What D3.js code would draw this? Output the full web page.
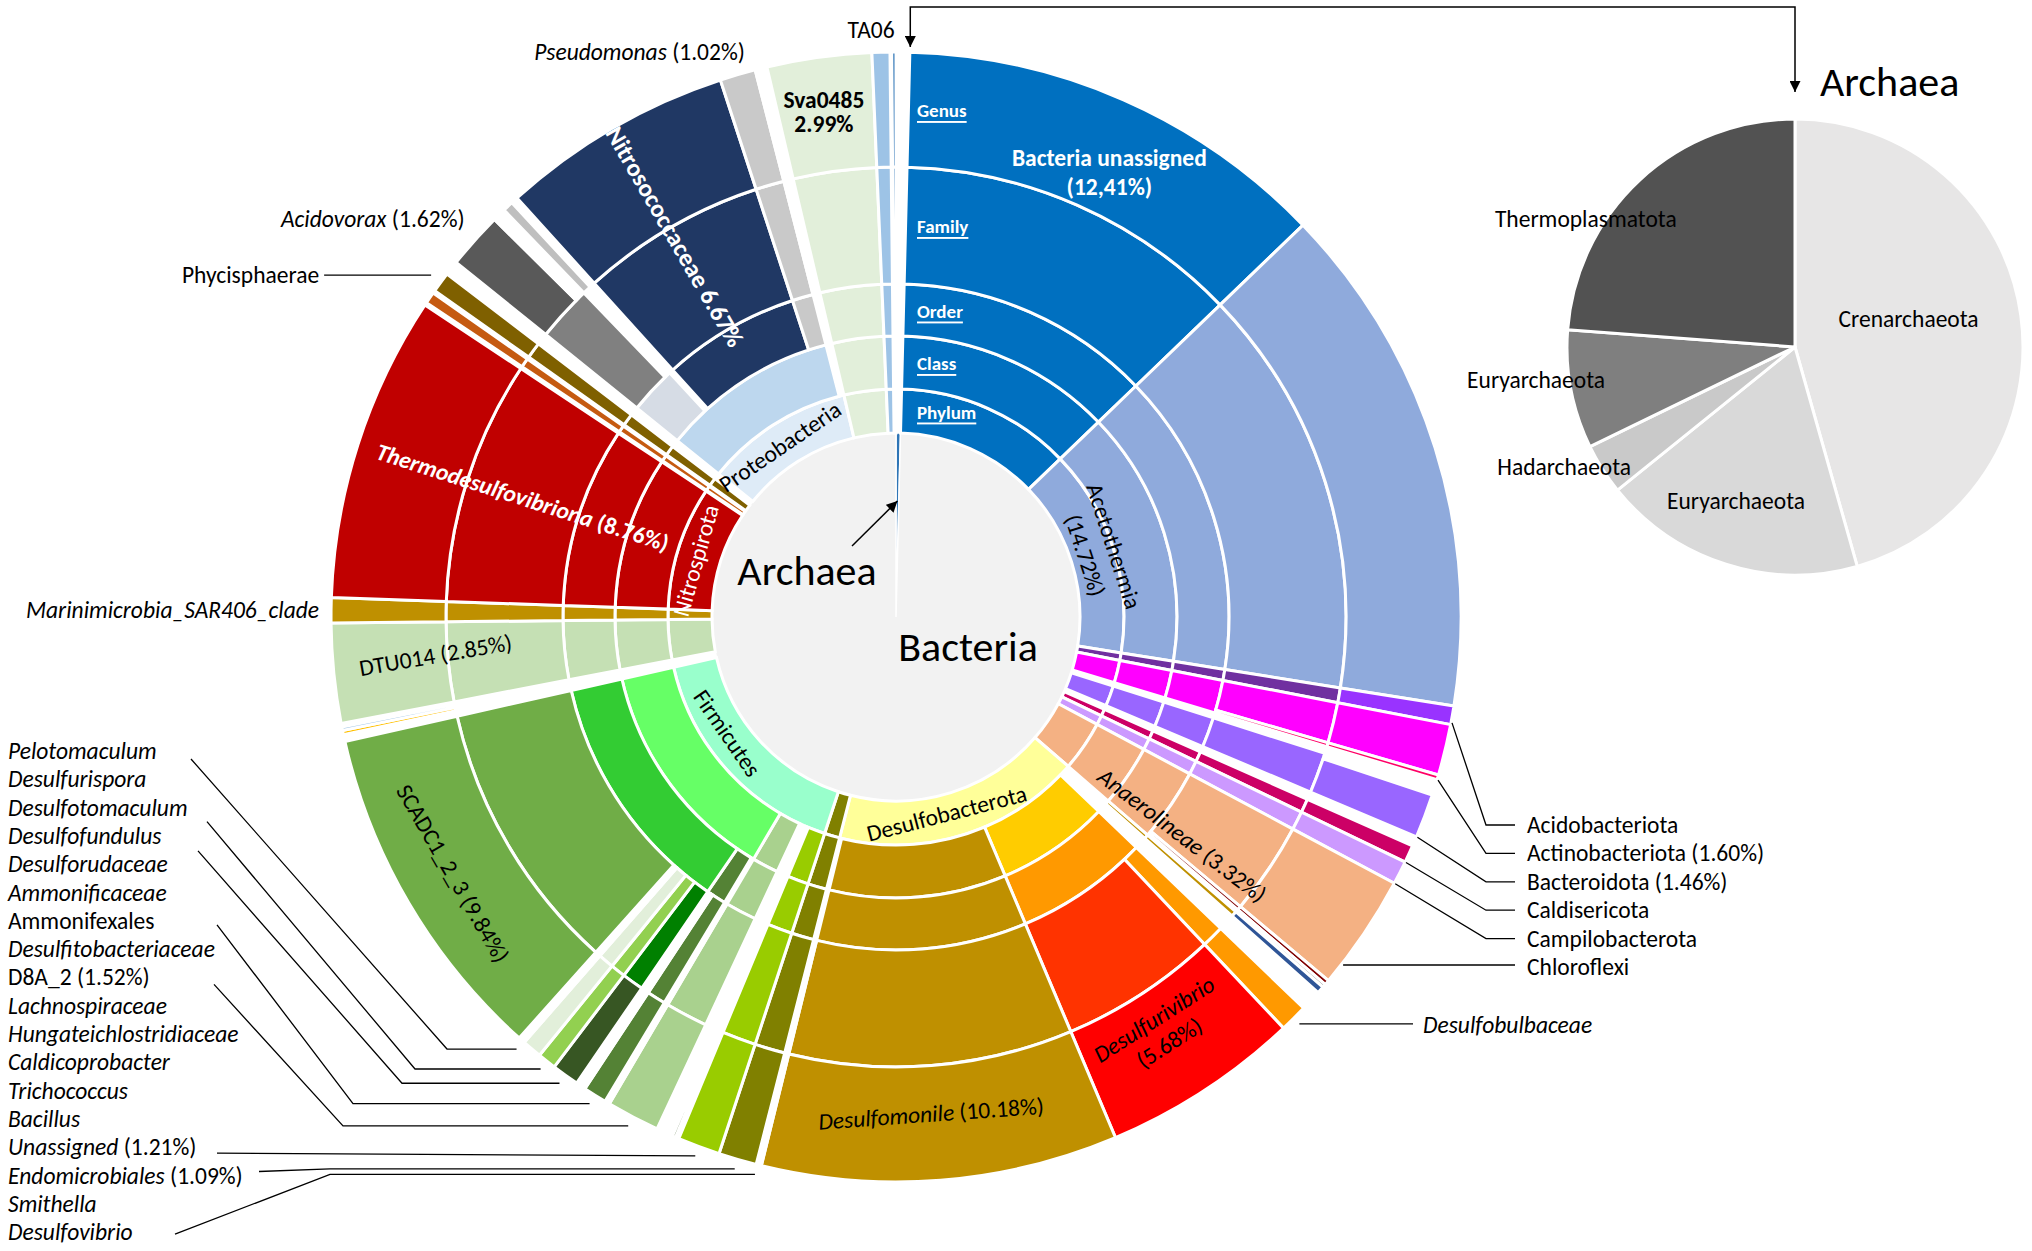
<!DOCTYPE html>
<html><head><meta charset="utf-8">
<script src="https://cdn.jsdelivr.net/npm/d3@7"></script>
<style>
html,body{margin:0;padding:0;background:#fff;}
svg{display:block;font-family:Carlito,Lato,"Open Sans",sans-serif;}
</style></head><body>
<svg id="chart" width="2032" height="1251"></svg>
<script>
// ---------------- DATA ----------------
// lineage of every leaf, clockwise from 12 o'clock: [domain, phylum, class, order, family, genus]
// "" = no taxon drawn at that rank
const taxa = [
 ["Archaea","","","","",""],
 ["Bacteria","Bacteria unassigned","Bacteria unassigned c","Bacteria unassigned o","Bacteria unassigned f","Bacteria unassigned g"],
 ["Bacteria","Acetothermia","Acetothermia c","Acetothermia o","Acetothermia f","Acetothermia g"],
 ["Bacteria","Acidobacteriota","Acidobacteriota c","Acidobacteriota o","Acidobacteriota f","Acidobacteriota g"],
 ["Bacteria","Actinobacteriota","Actinobacteriota c","Actinobacteriota o","Actinobacteriota f","Actinobacteriota g"],
 ["Bacteria","Actinobacteriota","Actinobacteriota c","Actinobacteriota o","Actinobacteriota f2","Actinobacteriota g2"],
 ["Bacteria","","","","",""],
 ["Bacteria","Bacteroidota","Bacteroidota c","Bacteroidota o","Bacteroidota f","Bacteroidota g2"],
 ["Bacteria","Bacteroidota","Bacteroidota c","Bacteroidota o","Bacteroidota f",""],
 ["Bacteria","Bacteroidota","Bacteroidota c","Bacteroidota o","Bacteroidota f","Bacteroidota g"],
 ["Bacteria","","","","",""],
 ["Bacteria","Caldisericota","Caldisericota c","Caldisericota o","Caldisericota f","Caldisericota g"],
 ["Bacteria","Campilobacterota","Campilobacterota c","Campilobacterota o","Campilobacterota f","Campilobacterota g"],
 ["Bacteria","Chloroflexi","Anaerolineae","Anaerolineae o","Anaerolineae f","Anaerolineae g"],
 ["Bacteria","Chloroflexi","Anaerolineae","Anaerolineae o","Chloroflexi f2","Chloroflexi g2"],
 ["Bacteria","Chloroflexi","Anaerolineae","Anaerolineae o","","Chloroflexi g3"],
 ["Bacteria","Desulfobacterota","","Desulfobacterota o1","Desulfobacterota f1","Desulfobacterota g1"],
 ["Bacteria","Desulfobacterota","","","",""],
 ["Bacteria","Desulfobacterota","Desulfobulbia","Desulfobulbales","Desulfobulbaceae","Desulfobulbaceae g"],
 ["Bacteria","Desulfobacterota","Desulfobulbia","Desulfobulbales","Desulfurivibrionaceae","Desulfurivibrio"],
 ["Bacteria","Desulfobacterota","Desulfomonilia","Desulfomonilia o","Desulfomonilia f","Desulfomonile"],
 ["Bacteria","Desulfobacterota","","","Smithella f","Smithella"],
 ["Bacteria","Desulfobacterota","","","","Desulfovibrio"],
 ["Bacteria","Elusimicrobiota","Elusimicrobiota c","Endomicrobiales","Endomicrobiales f","Endomicrobiales g"],
 ["Bacteria","Firmicutes","Unassigned","Unassigned o","Unassigned f","Unassigned g"],
 ["Bacteria","Firmicutes","","","",""],
 ["Bacteria","Firmicutes","Bacilli","Bacillus o","Bacillus f","Bacillus"],
 ["Bacteria","Firmicutes","","","",""],
 ["Bacteria","Firmicutes","","Trichococcus o","Trichococcus f","Trichococcus"],
 ["Bacteria","Firmicutes","","","",""],
 ["Bacteria","Firmicutes","","Caldicoprobacter o","Caldicoprobacter f","Caldicoprobacter"],
 ["Bacteria","Firmicutes","","","Hungateichlostridiaceae","Hungateichlostridiaceae g"],
 ["Bacteria","Firmicutes","","","",""],
 ["Bacteria","Firmicutes","","Lachnospiraceae o","Lachnospiraceae","Lachnospiraceae g"],
 ["Bacteria","Firmicutes","D8A_2 c","D8A_2","D8A_2 f","D8A_2 g"],
 ["Bacteria","Firmicutes","Clostridia","","Desulfitobacteriaceae","Desulfitobacteriaceae g"],
 ["Bacteria","Firmicutes","Clostridia","","",""],
 ["Bacteria","Firmicutes","Clostridia","Ammonifexales","Ammonifexales f","Ammonifexales g"],
 ["Bacteria","Firmicutes","Clostridia","Ammonifexales","Ammonificaceae","Ammonificaceae g"],
 ["Bacteria","Firmicutes","Clostridia","Ammonifexales","",""],
 ["Bacteria","Firmicutes","Clostridia","Ammonifexales","Desulforudaceae","Desulforudaceae g"],
 ["Bacteria","Firmicutes","Clostridia","Ammonifexales","",""],
 ["Bacteria","Firmicutes","Clostridia","Clostridia o","Desulfofundulus f","Desulfofundulus"],
 ["Bacteria","Firmicutes","Clostridia","Clostridia o","Desulfotomaculum f","Desulfotomaculum"],
 ["Bacteria","Firmicutes","Clostridia","Clostridia o","Desulfurispora f","Desulfurispora"],
 ["Bacteria","Firmicutes","Clostridia","Clostridia o","Pelotomaculum f","Pelotomaculum"],
 ["Bacteria","Firmicutes","Clostridia","Clostridia o","",""],
 ["Bacteria","Firmicutes","Clostridia","Clostridia o","SCADC1_2_3","SCADC1_2_3 g"],
 ["Bacteria","","","","",""],
 ["Bacteria","","","","","Minor g1"],
 ["Bacteria","","","","Minor f2","Minor g2"],
 ["Bacteria","","","","",""],
 ["Bacteria","DTU014","DTU014 c","DTU014 o","DTU014 f","DTU014 g"],
 ["Bacteria","Marinimicrobia","Marinimicrobia c","Marinimicrobia o","Marinimicrobia f","Marinimicrobia g"],
 ["Bacteria","Nitrospirota","Thermodesulfovibriona c","Thermodesulfovibriona o","Thermodesulfovibriona f","Thermodesulfovibriona"],
 ["Bacteria","","","","",""],
 ["Bacteria","Minor phylum A","Minor phylum A c","Minor phylum A o","Minor phylum A f","Minor phylum A g"],
 ["Bacteria","","","","",""],
 ["Bacteria","Planctomycetota","Phycisphaerae","Phycisphaerae o","Phycisphaerae f","Phycisphaerae g"],
 ["Bacteria","","","","",""],
 ["Bacteria","","","","","Minor g3"],
 ["Bacteria","","","","",""],
 ["Bacteria","","","","","Minor g4"],
 ["Bacteria","","","","",""],
 ["Bacteria","Proteobacteria","Gammaproteobacteria","Acidovorax o","Acidovorax f","Acidovorax"],
 ["Bacteria","Proteobacteria","Gammaproteobacteria","Acidovorax o","Acidovorax f","Acidovorax f g2"],
 ["Bacteria","Proteobacteria","Gammaproteobacteria","Acidovorax o","Acidovorax f",""],
 ["Bacteria","Proteobacteria","Gammaproteobacteria","Acidovorax o","","Acidovorax o g3"],
 ["Bacteria","Proteobacteria","Gammaproteobacteria","","",""],
 ["Bacteria","Proteobacteria","Gammaproteobacteria","Nitrosococcaceae o","Nitrosococcaceae","Nitrosococcaceae g"],
 ["Bacteria","Proteobacteria","Gammaproteobacteria","Pseudomonas o","Pseudomonas f","Pseudomonas"],
 ["Bacteria","Proteobacteria","","","Proteobacteria f3","Proteobacteria g3"],
 ["Bacteria","Proteobacteria","","","Proteobacteria f4","Proteobacteria g4"],
 ["Bacteria","Proteobacteria","","","",""],
 ["Bacteria","Sva0485","Sva0485 c","Sva0485 o","Sva0485 f","Sva0485 g"],
 ["Bacteria","TA06","TA06 c","TA06 o","TA06 f","TA06 g"],
 ["Bacteria","","","","",""],
 ["Bacteria","Minor phylum B","Minor phylum B c","Minor phylum B o","Minor phylum B f","Minor phylum B g"]
];
// relative abundance (%) of each leaf above, same order
const abundance = [
 0.39, 12.41, 14.72, 0.53, 1.46, 0.14, 0.25, 0.08, 0.12, 1.26,
 0.28, 0.50, 0.67, 3.32, 0.14, 0.10, 0.20, 0.60, 0.80, 5.68,
 10.18, 0.08, 0.07, 1.09, 1.21, 0.10, 0.09, 0.06, 0.07, 0.06,
 0.08, 0.07, 0.06, 0.08, 1.52, 0.07, 0.07, 0.67, 0.07, 0.07,
 0.07, 0.07, 0.78, 0.53, 0.56, 0.08, 0.11, 9.84, 0.20, 0.12,
 0.10, 0.10, 2.85, 0.72, 8.76, 0.08, 0.33, 0.08, 0.58, 0.12,
 0.08, 0.06, 0.08, 0.08, 1.62, 0.08, 0.30, 0.30, 0.20, 6.67,
 1.02, 0.08, 0.06, 0.20, 2.99, 0.51, 0.05, 0.12
];
// Archaea pie (clockwise from 12 o'clock)
const archaeaPhyla = ["Crenarchaeota","Euryarchaeota","Hadarchaeota","Euryarchaeota","Thermoplasmatota"];
const archaeaShare = [45.6, 18.6, 3.6, 8.4, 23.8];
// external label lists
const leftLabels = [
 ["Pelotomaculum","",1],["Desulfurispora","",1],["Desulfotomaculum","",1],["Desulfofundulus","",1],
 ["Desulforudaceae","",1],["Ammonificaceae","",1],["Ammonifexales","",0],["Desulfitobacteriaceae","",1],
 ["D8A_2"," (1.52%)",0],["Lachnospiraceae","",1],["Hungateichlostridiaceae","",1],["Caldicoprobacter","",1],
 ["Trichococcus","",1],["Bacillus","",1],["Unassigned"," (1.21%)",1],["Endomicrobiales"," (1.09%)",1],
 ["Smithella","",1],["Desulfovibrio","",1]
];
const rightLabels = [
 ["Acidobacteriota",""],["Actinobacteriota"," (1.60%)"],["Bacteroidota"," (1.46%)"],
 ["Caldisericota",""],["Campilobacterota",""],["Chloroflexi",""]
];

// ---------------- STYLE ----------------
const taxonColor = new Map([
 ["Bacteria","#f2f2f2"],["Archaea","#2e75b6"],
 ["Bacteria unassigned","#0070c0"],["Acetothermia","#8faadc"],
 ["Acidobacteriota","#7030a0"],["Acidobacteriota g","#9933ff"],
 ["Actinobacteriota","#ff00ff"],["Actinobacteriota f2","#ff0066"],["Actinobacteriota g2","#ff0066"],
 ["Bacteroidota","#9966ff"],["Bacteroidota g2","#1a1a1a"],
 ["Caldisericota","#cc0066"],["Campilobacterota","#cc99ff"],
 ["Chloroflexi","#f4b183"],["Anaerolineae","#f4b183"],["Chloroflexi f2","#800000"],["Chloroflexi g2","#800000"],["Chloroflexi g3","#a6a6a6"],
 ["Desulfobacterota","#ffff99"],["Desulfobacterota o1","#bf9000"],["Desulfobacterota f1","#bf9000"],["Desulfobacterota g1","#2f5597"],
 ["Desulfobulbia","#ffcc00"],["Desulfobulbales","#ff9900"],["Desulfobulbaceae","#ff9900"],
 ["Desulfurivibrionaceae","#ff3300"],["Desulfurivibrio","#ff0000"],
 ["Desulfomonilia","#bf9000"],["Desulfomonile","#bf9000"],
 ["Smithella","#262626"],["Desulfovibrio","#2f5597"],
 ["Elusimicrobiota","#808000"],["Endomicrobiales","#808000"],
 ["Firmicutes","#99ffcc"],["Unassigned","#99cc00"],
 ["Bacilli","#375623"],["Bacillus","#375623"],
 ["Trichococcus o","#375623"],["Trichococcus","#2e75b6"],
 ["Caldicoprobacter","#375623"],["Hungateichlostridiaceae","#c55a11"],["Lachnospiraceae","#375623"],
 ["D8A_2","#a9d18e"],["Clostridia","#66ff66"],["Clostridia o","#33cc33"],
 ["Desulfitobacteriaceae","#375623"],["Ammonifexales","#548235"],["Ammonificaceae","#c55a11"],["Desulforudaceae","#375623"],
 ["Desulfofundulus f","#008000"],["Desulfofundulus","#375623"],
 ["Desulfotomaculum","#92d050"],["Desulfurispora","#e2efda"],["Pelotomaculum","#375623"],
 ["SCADC1_2_3","#70ad47"],
 ["Minor g1","#ffc000"],["Minor f2","#9dc3e6"],["Minor g2","#9dc3e6"],["Minor g3","#2f5597"],["Minor g4","#548235"],
 ["DTU014","#c5e0b4"],["Marinimicrobia","#bf9000"],
 ["Nitrospirota","#c00000"],["Thermodesulfovibriona","#c00000"],
 ["Minor phylum A","#c55a11"],["Planctomycetota","#7f6000"],["Phycisphaerae","#7f6000"],
 ["Proteobacteria","#deebf7"],["Gammaproteobacteria","#bdd7ee"],
 ["Acidovorax o","#d6dce5"],["Acidovorax f","#808080"],["Acidovorax","#595959"],["Acidovorax f g2","#0d0d0d"],["Acidovorax o g3","#bfbfbf"],
 ["Nitrosococcaceae","#203864"],["Pseudomonas","#c9c9c9"],
 ["Proteobacteria f3","#bf9000"],["Proteobacteria g3","#bf9000"],["Proteobacteria f4","#2f5597"],["Proteobacteria g4","#2f5597"],
 ["Sva0485","#e2efda"],["TA06","#9dc3e6"],["Minor phylum B","#2e75b6"]
]);
const archaeaColor = ["#e7e6e6","#d9d9d9","#c9c9c9","#7f7f7f","#525252"];

function colorOf(name){
  if (taxonColor.has(name)) return taxonColor.get(name);
  const base = name.replace(/ [cofg]\d*$/, "");
  if (taxonColor.has(base)) return taxonColor.get(base);
  return "#cccccc";
}

// ---------------- LAYOUT ----------------
const svg = d3.select("#chart");
const cx = 896, cy = 617;
const ringR = [0, 184, 228, 281, 333, 450, 565];
const R = ringR[6];
const FONT = 'Carlito,Lato,"Open Sans",sans-serif';
const FS = 23.5;   // base font size

const total = d3.sum(abundance);
const angle = d3.scaleLinear().domain([0, total]).range([0, 2 * Math.PI]);
const cum = [0];
abundance.forEach((v, i) => cum.push(cum[i] + v));
const deg = v => angle(v) * 180 / Math.PI;
const pol = (a, r) => [cx + r * Math.sin(a * Math.PI / 180), cy - r * Math.cos(a * Math.PI / 180)];

// build arcs for every rank by merging consecutive leaves with the same lineage
const nodes = [];
for (let L = 0; L < 6; L++) {
  let i = 0;
  while (i < taxa.length) {
    const path = taxa[i].slice(0, L + 1).join("|");
    let j = i;
    while (j + 1 < taxa.length && taxa[j + 1].slice(0, L + 1).join("|") === path) j++;
    const name = taxa[i][L];
    if (name) nodes.push({ level: L, name, start: cum[i], end: cum[j + 1] });
    i = j + 1;
  }
}
const findNode = (level, name) => nodes.find(n => n.level === level && n.name === name);
const leafIdx = name => taxa.findIndex(t => t[5] === name);
const leafMid = name => { const i = leafIdx(name); return deg((cum[i] + cum[i + 1]) / 2); };
const leafEnd = name => { const i = leafIdx(name); return deg(cum[i + 1]); };

const arc = d3.arc()
  .innerRadius(d => ringR[d.level])
  .outerRadius(d => ringR[d.level + 1])
  .startAngle(d => angle(d.start))
  .endAngle(d => angle(d.end));

const gSun = svg.append("g").attr("transform", `translate(${cx},${cy})`);
gSun.selectAll("path").data(nodes).join("path")
  .attr("d", arc)
  .attr("fill", d => colorOf(d.name))
  .attr("stroke", "#fff")
  .attr("stroke-width", d => d.level === 0 ? 1.5 : 3)
  .attr("stroke-linejoin", "miter");

// ------------- labels inside the rings -------------
function drawLines(g, lines, opt) {
  const lh = opt.lh || 27;
  lines.forEach((parts, k) => {
    const t = g.append("text")
      .attr("x", 0).attr("y", (k - (lines.length - 1) / 2) * lh)
      .attr("text-anchor", "middle").attr("dominant-baseline", "central")
      .attr("font-family", FONT).attr("font-size", opt.size || FS)
      .attr("font-weight", opt.weight || 400).attr("fill", opt.fill || "#000");
    parts.forEach(p => t.append("tspan").text(p[0]).attr("font-style", p[1] ? "italic" : "normal"));
  });
}
const innerLabels = [
 { level: 5, node: "Bacteria unassigned g", mode: "h", dA: 1.9, r: 493, weight: 700, fill: "#fff", lh: 29,
   lines: [[["Bacteria unassigned"]], [["(12,41%)"]]] },
 { level: 1, node: "Acetothermia", mode: "t", dA: -0.6, r: 214, lh: 30, lines: [[["Acetothermia"]], [["(14.72%)"]]] },
 { level: 1, node: "Desulfobacterota", mode: "t", dA: 2.9, r: 203, lines: [[["Desulfobacterota"]]] },
 { level: 1, node: "Firmicutes", mode: "t", dA: 7.7, r: 205, lines: [[["Firmicutes"]]] },
 { level: 1, node: "Nitrospirota", mode: "t", dA: -2, r: 208, fill: "#fff", lines: [[["Nitrospirota"]]] },
 { level: 1, node: "Proteobacteria", mode: "t", dA: -2.1, r: 206, lines: [[["Proteobacteria"]]] },
 { level: 5, node: "Sva0485 g", mode: "h", dA: -0.3, r: 510, weight: 700, lh: 24, lines: [[["Sva0485"]], [["2.99%"]]] },
 { level: 5, node: "Nitrosococcaceae g", mode: "ri", dA: 0, r: 440, weight: 700, fill: "#fff", size: 25, lines: [[["Nitrosococcaceae 6.67%"]]] },
 { level: 5, node: "Thermodesulfovibriona", mode: "ri", dA: 0, r: 392, weight: 700, fill: "#fff", lines: [[["Thermodesulfovibriona", 1], [" (8.76%)"]]] },
 { level: 5, node: "DTU014 g", mode: "ri", dA: 1.0, rot: -5, r: 462, lines: [[["DTU014 (2.85%)"]]] },
 { level: 5, node: "SCADC1_2_3 g", mode: "t", dA: 0.4, r: 512, lines: [[["SCADC1_2_3 (9.84%)"]]] },
 { level: 3, node: "Anaerolineae o", mode: "ro", dA: 2.8, r: 360, lines: [[["Anaerolineae", 1], [" (3.32%)"]]] },
 { level: 5, node: "Desulfurivibrio", mode: "t", dA: 0.4, r: 492, lh: 28, lines: [[["Desulfurivibrio", 1]], [["(5.68%)"]]] },
 { level: 5, node: "Desulfomonile", mode: "t", dA: 0.5, r: 498, lines: [[["Desulfomonile", 1], [" (10.18%)"]]] }
];
innerLabels.forEach(s => {
  const n = findNode(s.level, s.node);
  if (!n) return;
  const a = deg((n.start + n.end) / 2) + (s.dA || 0);
  const [x, y] = pol(a, s.r);
  let rot = 0;
  if (s.mode === "t") rot = (a < 90 || a > 270) ? a : a - 180;
  else if (s.mode === "ri") rot = a - 270;
  else if (s.mode === "ro") rot = a - 90;
  rot += (s.rot || 0);
  const g = svg.append("g").attr("transform", `translate(${x},${y}) rotate(${rot})`);
  drawLines(g, s.lines, s);
});

// rank names in the "Bacteria unassigned" sector
const rankNames = ["Phylum", "Class", "Order", "Family", "Genus"];
rankNames.forEach((t, k) => {
  const rm = (ringR[k + 1] + ringR[k + 2]) / 2;
  svg.append("text").attr("x", cx + 21).attr("y", cy - rm + 1)
    .attr("dominant-baseline", "central").attr("font-family", FONT)
    .attr("font-size", 19).attr("font-weight", 700).attr("fill", "#fff")
    .attr("text-decoration", "underline").text(t);
});

// centre labels
svg.append("text").attr("x", cx - 89).attr("y", cy - 47).attr("text-anchor", "middle")
  .attr("dominant-baseline", "central").attr("font-family", FONT).attr("font-size", 42).text("Archaea");
svg.append("text").attr("x", cx + 72).attr("y", cy + 29).attr("text-anchor", "middle")
  .attr("dominant-baseline", "central").attr("font-family", FONT).attr("font-size", 42).text("Bacteria");

// arrow marker
const defs = svg.append("defs");
defs.append("marker").attr("id", "arr").attr("viewBox", "0 0 10 10").attr("refX", 10).attr("refY", 5)
  .attr("markerUnits", "userSpaceOnUse").attr("markerWidth", 11).attr("markerHeight", 11)
  .attr("orient", "auto-start-reverse")
  .append("path").attr("d", "M0,0 L10,5 L0,10 z").attr("fill", "#000");

const archMid = deg(cum[1] / 2);
const tip = pol(archMid, 116);
svg.append("line").attr("x1", cx - 44).attr("y1", cy - 71).attr("x2", tip[0]).attr("y2", tip[1])
  .attr("stroke", "#000").attr("stroke-width", 1.5).attr("marker-end", "url(#arr)");

// ------------- external labels -------------
const lineStyle = sel => sel.attr("fill", "none").attr("stroke", "#000").attr("stroke-width", 1.3);
function extText(x, y, parts, anchor, size) {
  const t = svg.append("text").attr("x", x).attr("y", y).attr("text-anchor", anchor || "start")
    .attr("dominant-baseline", "central").attr("font-family", FONT).attr("font-size", size || FS).attr("fill", "#000");
  parts.forEach(p => t.append("tspan").text(p[0]).attr("font-style", p[1] ? "italic" : "normal"));
  return t;
}

// left list
const leftX = 8, leftY0 = 751, leftStep = 28.3;
leftLabels.forEach((d, k) => extText(leftX, leftY0 + k * leftStep, [[d[0], d[2]], [d[1], 0]]));
const leftLeaders = [
  [0, "Pelotomaculum", 191, 8, 447],
  [2, "Desulfotomaculum", 207, 14, 415],
  [3, "Desulfofundulus", 198, 15, 402],
  [6, "Ammonifexales g", 217, 4, 353],
  [8, "D8A_2 g", 214, 7, 343],
  [14, "Unassigned g", 217, 6, null],
  [15, "Endomicrobiales g", 259, -4, 330],
  [17, "Desulfovibrio", 175, 2, 330]
];
leftLeaders.forEach(([row, leaf, sx, sdy, ex]) => {
  const [tx, ty] = pol(leafMid(leaf), R + 10);
  const sy = leftY0 + row * leftStep + sdy;
  const pts = ex === null ? [[sx, sy], [tx, ty]] : [[sx, sy], [ex, ty], [tx, ty]];
  svg.append("path").attr("d", d3.line()(pts)).call(lineStyle);
});

// right list
const rightX = 1527, rightY0 = 825, rightStep = 28.4;
rightLabels.forEach((d, k) => extText(rightX, rightY0 + k * rightStep, [[d[0], 0], [d[1], 0]]));
const rightLeaders = [
  [0, leafEnd("Acidobacteriota g") - 0.2],
  [1, leafEnd("Actinobacteriota g2")],
  [2, leafEnd("Bacteroidota g")],
  [3, leafEnd("Caldisericota g")],
  [4, leafEnd("Campilobacterota g")]
];
rightLeaders.forEach(([row, a]) => {
  const y = rightY0 + row * rightStep;
  const [tx, ty] = pol(a, R + 1);
  svg.append("path").attr("d", d3.line()([[1515, y], [1486, y], [tx, ty]])).call(lineStyle);
});
{ // Chloroflexi: horizontal leader to the rim
  const y = rightY0 + 5 * rightStep - 2;
  const x = cx + Math.sqrt(R * R - (y - cy) * (y - cy)) + 2;
  svg.append("path").attr("d", d3.line()([[1515, y], [x, y]])).call(lineStyle);
}
{ // Desulfobulbaceae
  const [tx, ty] = pol(leafMid("Desulfobulbaceae g"), R + 8);
  svg.append("path").attr("d", d3.line()([[tx, ty], [1413, ty]])).call(lineStyle);
  extText(1423, ty + 1, [["Desulfobulbaceae", 1]]);
}

// labels above the rim
const rimLabels = [
  ["TA06 g", 1.4, 587, [["TA06", 0]], 0],
  ["Pseudomonas", 1.3, 585, [["Pseudomonas", 1], [" (1.02%)", 0]], 0],
  ["Acidovorax", 0.9, 587, [["Acidovorax", 1], [" (1.62%)", 0]], 0],
  ["Marinimicrobia g", 0, 577, [["Marinimicrobia_SAR406_clade", 1]], 0],
  ["Phycisphaerae g", 0, 577, [["Phycisphaerae", 0]], 107]
];
rimLabels.forEach(([leaf, dA, r, parts, lineLen]) => {
  const [x, y] = pol(leafMid(leaf) + dA, r);
  if (lineLen) {
    svg.append("path").attr("d", d3.line()([[x, y], [x - lineLen, y]])).call(lineStyle);
    extText(x - lineLen - 5, y, parts, "end");
  } else {
    extText(x, y, parts, "end");
  }
});

// connector from the Archaea slice to the pie
const pcx = 1795, pcy = 347, pr = 228;
const xArch = pol(deg(cum[1]), R + 18)[0];
svg.append("path").attr("d", `M${xArch},47 V7 H${pcx} V92`)
  .attr("fill", "none").attr("stroke", "#000").attr("stroke-width", 1.5)
  .attr("marker-start", "url(#arr)").attr("marker-end", "url(#arr)");

// ------------- Archaea pie -------------
const pie = d3.pie().sort(null).value(d => d)(archaeaShare);
const pArc = d3.arc().innerRadius(0).outerRadius(pr);
const gPie = svg.append("g").attr("transform", `translate(${pcx},${pcy})`);
gPie.selectAll("path").data(pie).join("path")
  .attr("d", pArc).attr("fill", (d, i) => archaeaColor[i])
  .attr("stroke", "#fff").attr("stroke-width", 3).attr("stroke-linejoin", "round");
svg.append("text").attr("x", 1820).attr("y", 81).attr("dominant-baseline", "central")
  .attr("font-family", FONT).attr("font-size", 42).text("Archaea");
const pieLabelPos = [[-6, 117], [3.3, 165], [5, 260], [3.6, 261], [-15.8, 245]];
pie.forEach((p, i) => {
  const a = (p.startAngle + p.endAngle) / 2 * 180 / Math.PI + pieLabelPos[i][0];
  const r = pieLabelPos[i][1];
  const x = pcx + r * Math.sin(a * Math.PI / 180), y = pcy - r * Math.cos(a * Math.PI / 180);
  svg.append("text").attr("x", x).attr("y", y).attr("text-anchor", "middle").attr("dominant-baseline", "central")
    .attr("font-family", FONT).attr("font-size", FS).text(archaeaPhyla[i]);
});
</script>
</body></html>
